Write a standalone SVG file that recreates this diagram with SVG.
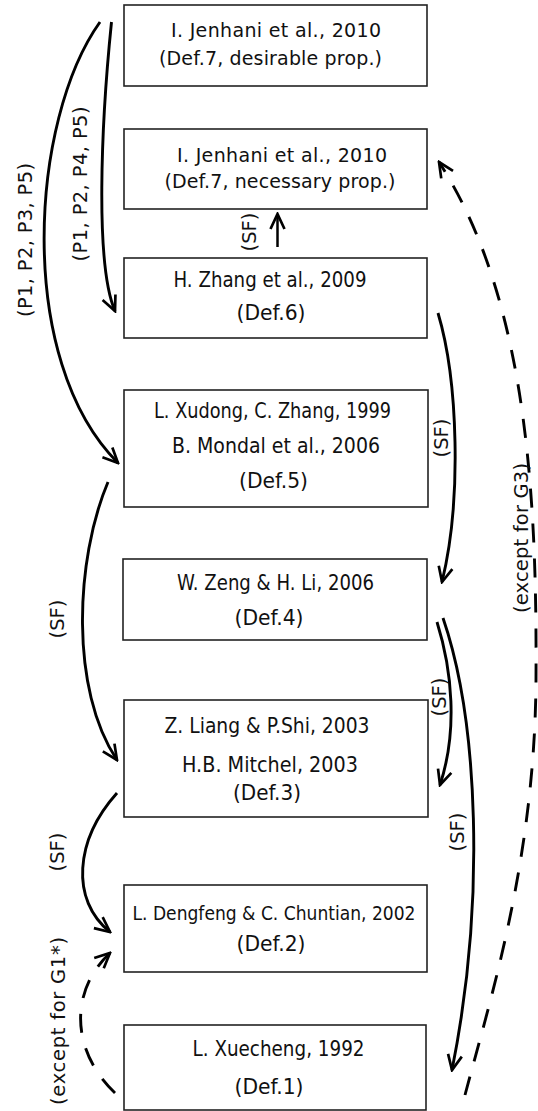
<svg xmlns="http://www.w3.org/2000/svg" width="538" height="1111" viewBox="0 0 538 1111">
  <style>
    .box { fill: #fff; stroke: #222; stroke-width: 1.6; }
    .t { font-family: "DejaVu Sans", "Liberation Sans", sans-serif; font-size: 20.5px; fill: #111; text-anchor: middle; }
    .t1 { font-size: 19px; }
    .lbl { font-family: "DejaVu Sans", "Liberation Sans", sans-serif; font-size: 19.5px; fill: #111; text-anchor: middle; }
    .edge { fill: none; stroke: #000; stroke-width: 2.9; marker-end: url(#head); }
    .dash { stroke-dasharray: 19 16; }
  </style>
  <defs>
    <marker id="head" viewBox="-18 -10 20 20" refX="0" refY="0" markerWidth="20" markerHeight="20" markerUnits="userSpaceOnUse" orient="auto">
      <path d="M-15,-7 L0,0 L-15,7" fill="none" stroke="#000" stroke-width="2.7" stroke-dasharray="none"/>
    </marker>
  </defs>

  <!-- definitions, top to bottom -->
  <g id="def7-desirable">
    <rect class="box" x="124" y="5" width="303" height="81"/>
    <text class="t t1" x="276" y="37" textLength="210">I. Jenhani et al., 2010</text>
    <text class="t t1" x="270.5" y="65" textLength="223">(Def.7, desirable prop.)</text>
  </g>
  <g id="def7-necessary">
    <rect class="box" x="124" y="129" width="303" height="80"/>
    <text class="t t1" x="282" y="162" textLength="210">I. Jenhani et al., 2010</text>
    <text class="t t1" x="280" y="188" textLength="231">(Def.7, necessary prop.)</text>
  </g>
  <g id="def6">
    <rect class="box" x="124" y="258" width="303" height="80"/>
    <text class="t" x="270" y="287" textLength="193" lengthAdjust="spacingAndGlyphs">H. Zhang et al., 2009</text>
    <text class="t" x="271" y="320" textLength="69" lengthAdjust="spacingAndGlyphs">(Def.6)</text>
  </g>
  <g id="def5">
    <rect class="box" x="124" y="390" width="304" height="117"/>
    <text class="t" x="272.5" y="418" textLength="237" lengthAdjust="spacingAndGlyphs">L. Xudong, C. Zhang, 1999</text>
    <text class="t" x="276" y="453" textLength="208" lengthAdjust="spacingAndGlyphs">B. Mondal et al., 2006</text>
    <text class="t" x="273.5" y="488" textLength="69" lengthAdjust="spacingAndGlyphs">(Def.5)</text>
  </g>
  <g id="def4">
    <rect class="box" x="123" y="559" width="304" height="81"/>
    <text class="t" x="275.5" y="590" textLength="197" lengthAdjust="spacingAndGlyphs">W. Zeng &amp; H. Li, 2006</text>
    <text class="t" x="269" y="625" textLength="69" lengthAdjust="spacingAndGlyphs">(Def.4)</text>
  </g>
  <g id="def3">
    <rect class="box" x="124" y="700" width="304" height="117"/>
    <text class="t" x="267" y="733" textLength="205" lengthAdjust="spacingAndGlyphs">Z. Liang &amp; P.Shi, 2003</text>
    <text class="t" x="270" y="772" textLength="176" lengthAdjust="spacingAndGlyphs">H.B. Mitchel, 2003</text>
    <text class="t" x="267" y="800" textLength="68" lengthAdjust="spacingAndGlyphs">(Def.3)</text>
  </g>
  <g id="def2">
    <rect class="box" x="124" y="885" width="303" height="87"/>
    <text class="t" x="274" y="920" textLength="283" lengthAdjust="spacingAndGlyphs" style="font-size:19.5px">L. Dengfeng &amp; C. Chuntian, 2002</text>
    <text class="t" x="271" y="951" textLength="69" lengthAdjust="spacingAndGlyphs">(Def.2)</text>
  </g>
  <g id="def1">
    <rect class="box" x="124" y="1025" width="302" height="85"/>
    <text class="t" x="278.5" y="1056" textLength="172" lengthAdjust="spacingAndGlyphs">L. Xuecheng, 1992</text>
    <text class="t" x="269" y="1094" textLength="69" lengthAdjust="spacingAndGlyphs">(Def.1)</text>
  </g>

  <!-- implications between definitions -->
  <g id="connectors">
    <path class="edge" d="M100,22 C30,120 15,360 118,463"/>
    <path class="edge" d="M111.5,22 C101,125 95,265 115,311"/>
    <path class="edge" d="M277.5,247 L277.5,214" style="stroke-width:2.5"/>
    <path class="edge" d="M438,313 C458,380 462,500 442,582"/>
    <path class="edge dash" d="M465,1095 C490,1000 535,860 536,680 C537,500 528,300 439,162"/>
    <path class="edge" d="M108,482 C75,560 70,690 117,760"/>
    <path class="edge" d="M437,622 C452,670 458,730 440,785"/>
    <path class="edge" d="M443,618 C478,720 486,900 452,1070"/>
    <path class="edge" d="M117,793 C75,840 70,900 110,932"/>
    <path class="edge dash" d="M115,1093 C70,1050 70,990 110,953"/>

    <text class="lbl" transform="translate(31.5,240) rotate(-90)" textLength="154">(P1, P2, P3, P5)</text>
    <text class="lbl" transform="translate(87,184) rotate(-90)" textLength="155">(P1, P2, P4, P5)</text>
    <text class="lbl" transform="translate(256,232) rotate(-90)">(SF)</text>
    <text class="lbl" transform="translate(448,438) rotate(-90)">(SF)</text>
    <text class="lbl" transform="translate(528,538) rotate(-90)" textLength="150">(except for G3)</text>
    <text class="lbl" transform="translate(64,619) rotate(-90)">(SF)</text>
    <text class="lbl" transform="translate(446,697) rotate(-90)">(SF)</text>
    <text class="lbl" transform="translate(464,832) rotate(-90)">(SF)</text>
    <text class="lbl" transform="translate(64,852) rotate(-90)">(SF)</text>
    <text class="lbl" transform="translate(65,1021) rotate(-90)" textLength="168">(except for G1*)</text>
  </g>
</svg>
